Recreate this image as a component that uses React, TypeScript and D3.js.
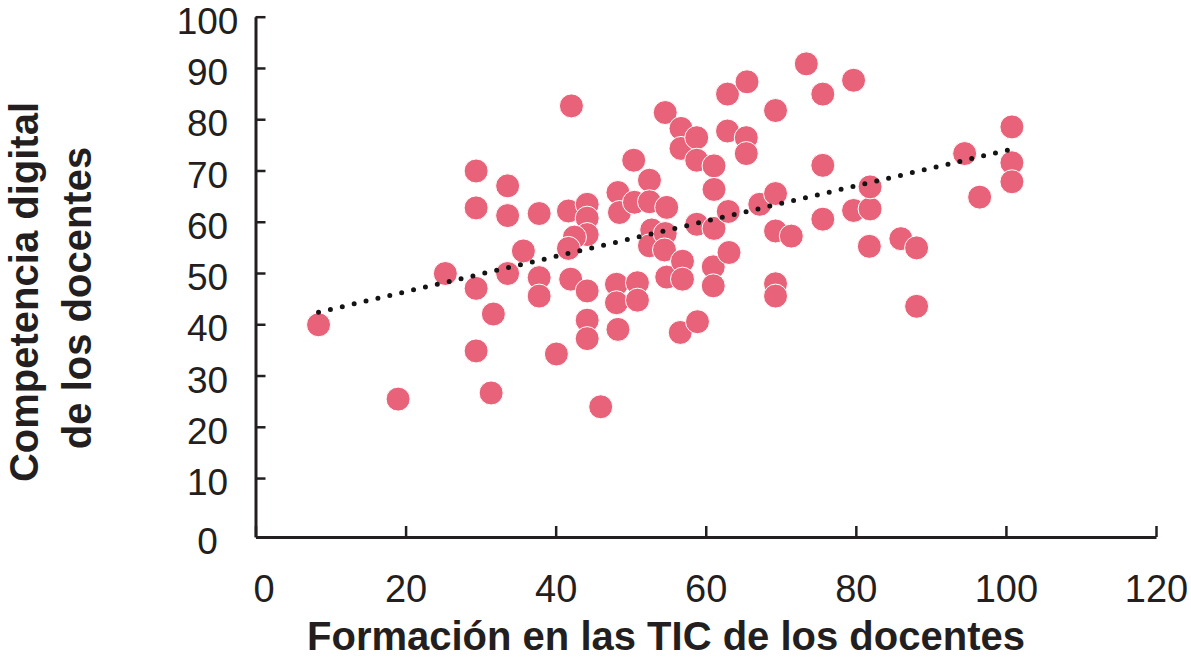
import React, { useRef, useEffect } from 'react';
import * as d3 from 'd3';

// values
const formacion = [
  8.4, 19.0, 25.3, 29.4, 29.4, 29.4, 29.4, 31.7, 31.4, 33.6,
  33.6, 33.6, 35.7, 37.8, 37.8, 37.8, 40.1, 42.1, 41.7, 44.2,
  44.2, 44.2, 42.5, 41.7, 42.0, 44.2, 44.2, 44.2, 46.0, 48.3,
  48.5, 48.1, 48.1, 48.3, 50.4, 50.5, 50.9, 50.9, 52.5, 52.5,
  52.8, 52.5, 54.8, 54.6, 54.5, 54.8, 54.6, 56.7, 56.7, 56.9,
  56.9, 56.6, 58.8, 58.8, 58.8, 58.9, 61.1, 61.1, 61.1, 61.0,
  61.0, 62.9, 62.9, 63.0, 63.1, 65.5, 65.4, 65.4, 67.2, 69.3,
  69.3, 69.3, 69.3, 69.3, 71.4, 73.4, 75.6, 75.6, 75.6, 79.7,
  79.7, 81.9, 81.9, 81.8, 86.0, 88.1, 88.1, 94.5, 96.5, 100.8,
  100.8, 100.8,
];
const competencia = [
  39.9, 25.4, 49.9, 69.9, 62.7, 47.0, 34.8, 42.0, 26.6, 67.0,
  61.2, 49.9, 54.3, 61.6, 49.1, 45.5, 34.2, 82.6, 62.1, 63.4,
  60.7, 57.5, 57.0, 54.8, 48.8, 46.5, 40.8, 37.2, 23.9, 65.7,
  61.8, 47.8, 44.2, 39.0, 72.0, 63.8, 48.1, 44.7, 68.1, 63.9,
  58.4, 55.3, 62.8, 57.7, 54.5, 49.2, 81.3, 78.2, 74.3, 52.3,
  48.8, 38.4, 76.4, 72.0, 59.5, 40.5, 70.9, 66.3, 58.7, 51.2,
  47.5, 84.9, 77.7, 62.0, 54.0, 87.3, 76.4, 73.3, 63.4, 81.7,
  65.5, 58.2, 47.9, 45.5, 57.2, 90.8, 84.9, 71.0, 60.5, 87.6,
  62.2, 62.5, 66.8, 55.2, 56.7, 54.9, 43.5, 73.3, 64.8, 78.5,
  71.5, 67.8,
];
const xTicks = [0, 20, 40, 60, 80, 100, 120];
const yTicks = [10, 20, 30, 40, 50, 60, 70, 80, 90, 100];
const xTitle = 'Formación en las TIC de los docentes';
const yTitle = ['Competencia digital', 'de los docentes'];

const ink = '#231f20';
const dotColor = '#e8637a';
const font = '"Liberation Sans", Arial, sans-serif';

const App = () => {
  const ref = useRef<SVGSVGElement | null>(null);

  useEffect(() => {
    const svg = d3.select(ref.current);
    if (!ref.current) return;
    svg.selectAll('*').remove();

    const x = d3.scaleLinear().domain([0, 120]).range([255.5, 1156]);
    // axis bottom sits a little below zero, like the original
    const y = d3.scaleLinear().domain([-1.5, 100]).range([537, 16.7]);

    const data = formacion.map((f, i) => ({ x: f, y: competencia[i] }));

    // x axis
    const gx = svg.append('g').attr('transform', `translate(0,${y(-1.5)})`)
      .call(d3.axisBottom(x).tickValues(xTicks).tickSizeInner(-11).tickSizeOuter(0).tickPadding(38));
    gx.select('.domain').attr('stroke', ink).attr('stroke-width', 3);
    gx.selectAll('.tick line').attr('stroke', ink).attr('stroke-width', 2.5);
    gx.selectAll('.tick text')
      .attr('fill', ink)
      .attr('font-family', font)
      .attr('font-size', 38)
      .attr('dx', (d) => (d === 0 ? 8 : 0));

    // y axis
    const gy = svg.append('g').attr('transform', `translate(${x(0)},0)`)
      .call(d3.axisLeft(y).tickValues(yTicks).tickSizeInner(-10).tickSizeOuter(0));
    gy.select('.domain').attr('stroke', ink).attr('stroke-width', 3);
    gy.selectAll('.tick line').attr('stroke', ink).attr('stroke-width', 2.5);
    gy.selectAll('.tick text')
      .attr('fill', ink)
      .attr('font-family', font)
      .attr('font-size', 37)
      .attr('text-anchor', 'middle')
      .attr('x', -48)
      .attr('dy', '0.45em');
    gy.append('text')
      .attr('x', -48)
      .attr('y', y(-1.5))
      .attr('dy', '0.45em')
      .attr('fill', ink)
      .attr('font-family', font)
      .attr('font-size', 37)
      .attr('text-anchor', 'middle')
      .text('0');

    // points
    svg.append('g')
      .selectAll('circle')
      .data(data)
      .enter().append('circle')
      .attr('cx', (d) => x(d.x))
      .attr('cy', (d) => y(d.y))
      .attr('r', 12)
      .attr('fill', dotColor)
      .attr('stroke', '#ffffff')
      .attr('stroke-width', 1);

    // linear trend (least squares)
    const mx = d3.mean(formacion)!;
    const my = d3.mean(competencia)!;
    let sxy = 0;
    let sxx = 0;
    data.forEach((d) => {
      sxy += (d.x - mx) * (d.y - my);
      sxx += (d.x - mx) * (d.x - mx);
    });
    const slope = sxy / sxx;
    const icpt = my - slope * mx;
    const [x0, x1] = d3.extent(formacion) as [number, number];
    const line = d3.line<number>().x((v) => x(v)).y((v) => y(icpt + slope * v));
    svg.append('path')
      .attr('d', line([x0, x1]))
      .attr('fill', 'none')
      .attr('stroke', '#141414')
      .attr('stroke-width', 5)
      .attr('stroke-linecap', 'round')
      .attr('stroke-dasharray', '0 12.2');

    // titles
    svg.append('text')
      .attr('x', 666)
      .attr('y', 650)
      .attr('text-anchor', 'middle')
      .attr('font-family', font)
      .attr('font-weight', 'bold')
      .attr('font-size', 40)
      .attr('fill', ink)
      .text(xTitle);

    svg.append('text')
      .attr('transform', 'translate(38,292) rotate(-90)')
      .attr('text-anchor', 'middle')
      .attr('font-family', font)
      .attr('font-weight', 'bold')
      .attr('font-size', 40)
      .attr('fill', ink)
      .text(yTitle[0]);
    svg.append('text')
      .attr('transform', 'translate(91,298) rotate(-90)')
      .attr('text-anchor', 'middle')
      .attr('font-family', font)
      .attr('font-weight', 'bold')
      .attr('font-size', 40)
      .attr('fill', ink)
      .text(yTitle[1]);
  }, []);

  return (
    <svg
      ref={ref as React.Ref<SVGSVGElement>}
      width={1191}
      height={665}
      style={{ position: 'absolute', left: 0, top: 0, background: '#ffffff' }}
    />
  );
};

export default App;
